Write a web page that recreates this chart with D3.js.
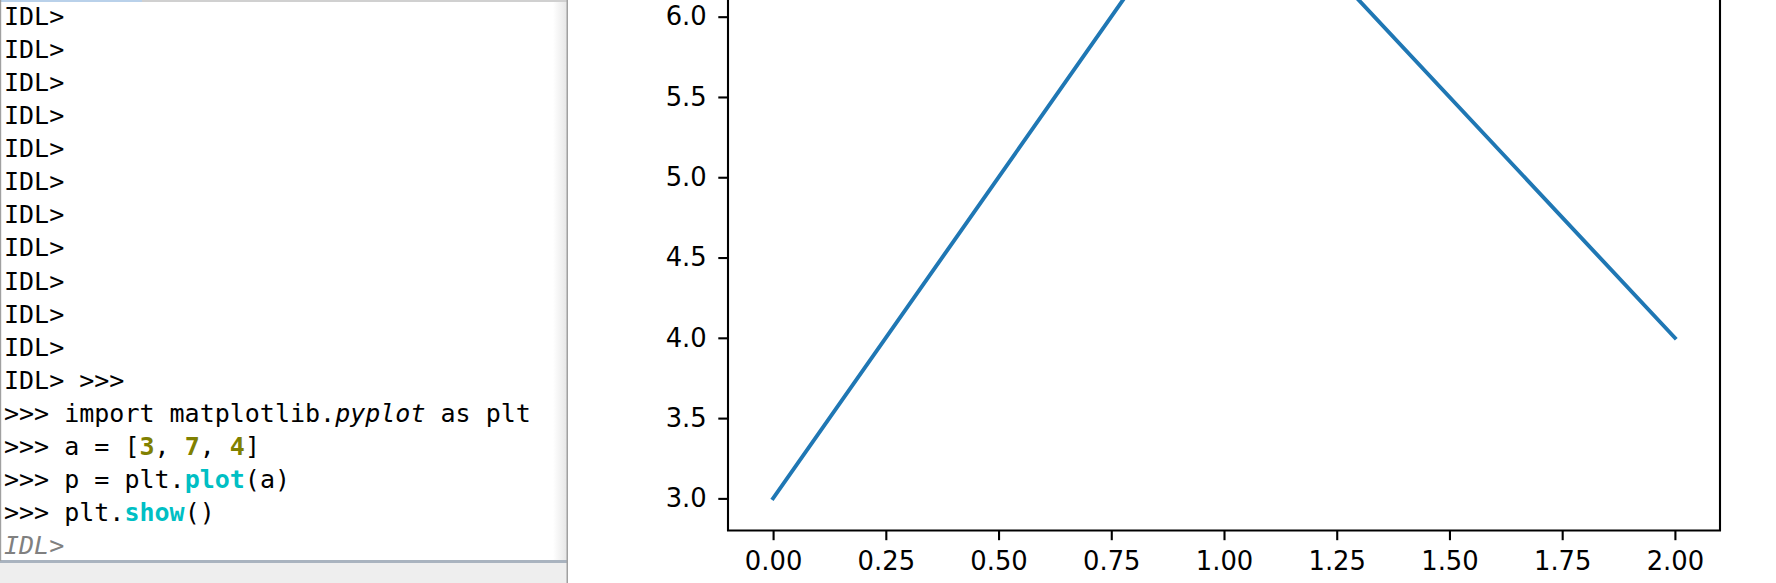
<!DOCTYPE html>
<html>
<head>
<meta charset="utf-8">
<script src="https://cdn.jsdelivr.net/npm/d3@7"></script>
<style>
  html, body { margin: 0; padding: 0; background: #fff; overflow: hidden; }
  .tick text { font-family: "DejaVu Sans", sans-serif; font-size: 25.8px; fill: #000; }
  .console text { font-family: "DejaVu Sans Mono", monospace; font-size: 25px; }
</style>
</head>
<body>
<div id="chart"></div>
<script>
const WIDTH = 1776;
const HEIGHT = 583;

// the plotted series: plt.plot([3, 7, 4])
const xValues = [0, 1, 2];
const yValues = [3, 7, 4];
const xTicks = [0, 0.25, 0.5, 0.75, 1.0, 1.25, 1.5, 1.75, 2.0];
// ticks above 6.0 fall outside the window, same as in the screenshot
const yTicks = [3.0, 3.5, 4.0, 4.5, 5.0, 5.5, 6.0];

// console lines, each a list of [text, kind]
const promptLines = [
  [["IDL>", "plain"]], [["IDL>", "plain"]], [["IDL>", "plain"]], [["IDL>", "plain"]],
  [["IDL>", "plain"]], [["IDL>", "plain"]], [["IDL>", "plain"]], [["IDL>", "plain"]],
  [["IDL>", "plain"]], [["IDL>", "plain"]], [["IDL>", "plain"]],
  [["IDL> >>>", "plain"]],
  [[">>> import matplotlib.", "plain"], ["pyplot", "italic"], [" as plt", "plain"]],
  [[">>> a = [", "plain"], ["3", "num"], [", ", "plain"], ["7", "num"], [", ", "plain"], ["4", "num"], ["]", "plain"]],
  [[">>> p = plt.", "plain"], ["plot", "func"], ["(a)", "plain"]],
  [[">>> plt.", "plain"], ["show", "func"], ["()", "plain"]],
  [["IDL>", "prompt"]]
];

const kindStyle = {
  plain:  { fill: "#000", weight: "normal", style: "normal" },
  italic: { fill: "#000", weight: "normal", style: "italic" },
  num:    { fill: "#808000", weight: "bold", style: "normal" },
  func:   { fill: "#00bfc4", weight: "bold", style: "normal" },
  prompt: { fill: "#808080", weight: "normal", style: "italic" }
};

var svg = d3.select("#chart").append("svg")
  .attr("width", WIDTH)
  .attr("height", HEIGHT);

/* console panel on the left */
const panelW = 567;
const con = svg.append("g").attr("class", "console");

let defs = svg.append("defs");
let grad = defs.append("linearGradient").attr("id", "edge").attr("x1", 0).attr("x2", 1);
grad.append("stop").attr("offset", 0).attr("stop-color", "#fff");
grad.append("stop").attr("offset", 1).attr("stop-color", "#e6e6e6");

con.append("rect").attr("x", 0).attr("y", 0).attr("width", panelW).attr("height", 561).attr("fill", "#fff");
con.append("rect").attr("x", panelW - 14).attr("y", 2).attr("width", 14).attr("height", 559).attr("fill", "url(#edge)");
con.append("rect").attr("x", 0).attr("y", 0).attr("width", 142).attr("height", 2).attr("fill", "#b9d1ea");
con.append("rect").attr("x", 142).attr("y", 0).attr("width", panelW - 142).attr("height", 2).attr("fill", "#d0d0d0");
con.append("rect").attr("x", 0).attr("y", 560).attr("width", panelW).attr("height", 3).attr("fill", "#a9b3bf");
con.append("rect").attr("x", 0).attr("y", 563).attr("width", panelW).attr("height", 20).attr("fill", "#eeeeee");
con.append("rect").attr("x", 0).attr("y", 0).attr("width", 1.2).attr("height", 561).attr("fill", "#a0a0a0");
con.append("rect").attr("x", panelW - 0.5).attr("y", 0).attr("width", 1.5).attr("height", HEIGHT).attr("fill", "#a0a0a0");

const lineY = d3.scaleLinear().domain([0, promptLines.length - 1]).range([25, 554]);

promptLines.forEach((segs, i) => {
  let t = con.append("text")
    .attr("x", 4)
    .attr("y", lineY(i))
    .attr("xml:space", "preserve");
  segs.forEach(s => {
    let st = kindStyle[s[1]];
    t.append("tspan")
      .text(s[0])
      .attr("fill", st.fill)
      .attr("font-weight", st.weight)
      .attr("font-style", st.style);
  });
});

/* the plot */
const x = d3.scaleLinear().domain([-0.1, 2.1]).range([728, 1720]);
const y = d3.scaleLinear().domain([2.8, 7.2]).range([530.5, -176]);

const plot = svg.append("g");

plot.append("path")
  .datum(xValues.map((d, i) => [d, yValues[i]]))
  .attr("fill", "none")
  .attr("stroke", "#1f77b4")
  .attr("stroke-width", 3.9)
  .attr("stroke-linecap", "square")
  .attr("stroke-linejoin", "round")
  .attr("d", d3.line().x(d => x(d[0])).y(d => y(d[1])));

let xAxis = d3.axisBottom(x)
  .tickValues(xTicks)
  .tickFormat(d3.format(".2f"))
  .tickSize(9.7)
  .tickSizeOuter(0)
  .tickPadding(11.8);

let yAxis = d3.axisLeft(y)
  .tickValues(yTicks)
  .tickFormat(d3.format(".1f"))
  .tickSize(9.7)
  .tickSizeOuter(0)
  .tickPadding(11.6);

let gx = plot.append("g").attr("transform", "translate(0," + y(2.8) + ")").call(xAxis);
let gy = plot.append("g").attr("transform", "translate(" + x(-0.1) + ",0)").call(yAxis);
gx.select(".domain").remove();
gy.select(".domain").remove();
gx.selectAll(".tick line").attr("stroke", "#000").attr("stroke-width", 2.1);
gy.selectAll(".tick line").attr("stroke", "#000").attr("stroke-width", 2.1);
gx.selectAll(".tick text").attr("font-size", null).attr("font-family", null);
gy.selectAll(".tick text").attr("font-size", null).attr("font-family", null);

// spines (top one sits above the window)
const x0 = x(-0.1), x1 = x(2.1), y0 = y(2.8), y1 = y(7.2);
plot.append("path")
  .attr("fill", "none")
  .attr("stroke", "#000")
  .attr("stroke-width", 2.1)
  .attr("stroke-linejoin", "miter")
  .attr("d", "M" + x0 + "," + y1 + "L" + x0 + "," + y0 + "L" + x1 + "," + y0 + "L" + x1 + "," + y1 + "Z");
</script>
</body>
</html>
